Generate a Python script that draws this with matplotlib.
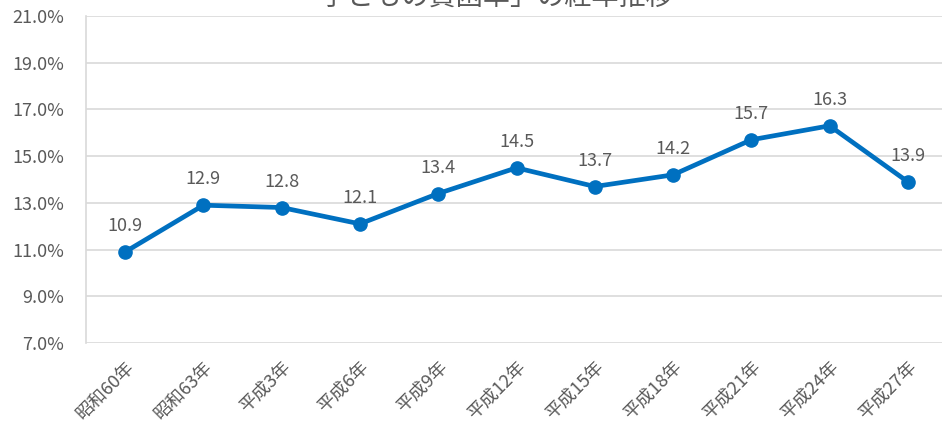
import matplotlib
matplotlib.use("Agg")
import matplotlib.pyplot as plt
from matplotlib.ticker import FuncFormatter, FixedLocator

plt.rcParams['font.family'] = ['Noto Sans CJK JP', 'DejaVu Sans']

title = "「子どもの貧困率」の経年推移"
categories = ["昭和60年", "昭和63年", "平成3年", "平成6年", "平成9年", "平成12年",
              "平成15年", "平成18年", "平成21年", "平成24年", "平成27年"]
values = [10.9, 12.9, 12.8, 12.1, 13.4, 14.5, 13.7, 14.2, 15.7, 16.3, 13.9]
y_ticks = [7, 9, 11, 13, 15, 17, 19, 21]

W, H = 942, 426
fig = plt.figure(figsize=(W / 100, H / 100), dpi=100)
left, right, top, bottom = 86, 947, 16, 343
ax = fig.add_axes([left / W, 1 - bottom / H, (right - left) / W, (bottom - top) / H])

grid_c = "#D9D9D9"
text_c = "#595959"
line_c = "#0070C0"

x = list(range(len(categories)))
ax.plot(x, values, color=line_c, lw=3.4, marker='o', ms=9.5, solid_capstyle='round', zorder=3)
for xi, v in zip(x, values):
    ax.annotate(f"{v:.1f}", (xi, v), xytext=(0, 15), textcoords='offset points',
                ha='center', va='baseline', fontsize=13, color=text_c)

ax.set_xlim(-0.5, len(categories) - 0.5)
ax.set_ylim(y_ticks[0], y_ticks[-1])
ax.yaxis.set_major_locator(FixedLocator(y_ticks))
ax.yaxis.set_major_formatter(FuncFormatter(lambda v, p: f"{v:.1f}%"))
ax.grid(axis='y', color=grid_c, lw=1.2)
ax.set_axisbelow(True)
for s in ['top', 'right', 'bottom']:
    ax.spines[s].set_visible(False)
ax.spines['left'].set_color(grid_c)
ax.spines['left'].set_linewidth(1.2)

ax.set_xticks(x)
ax.set_xticklabels(categories, rotation=45, ha='right', va='top', rotation_mode='anchor',
                   fontsize=13, color=text_c)
ax.tick_params(axis='x', length=0, pad=11)
ax.tick_params(axis='y', length=0, pad=16, labelsize=13, labelcolor=text_c)

fig.text(483 / W, 1 - 5 / H, title, ha='center', va='baseline', fontsize=19.5, color=text_c)

fig.savefig("out.png", dpi=100)
